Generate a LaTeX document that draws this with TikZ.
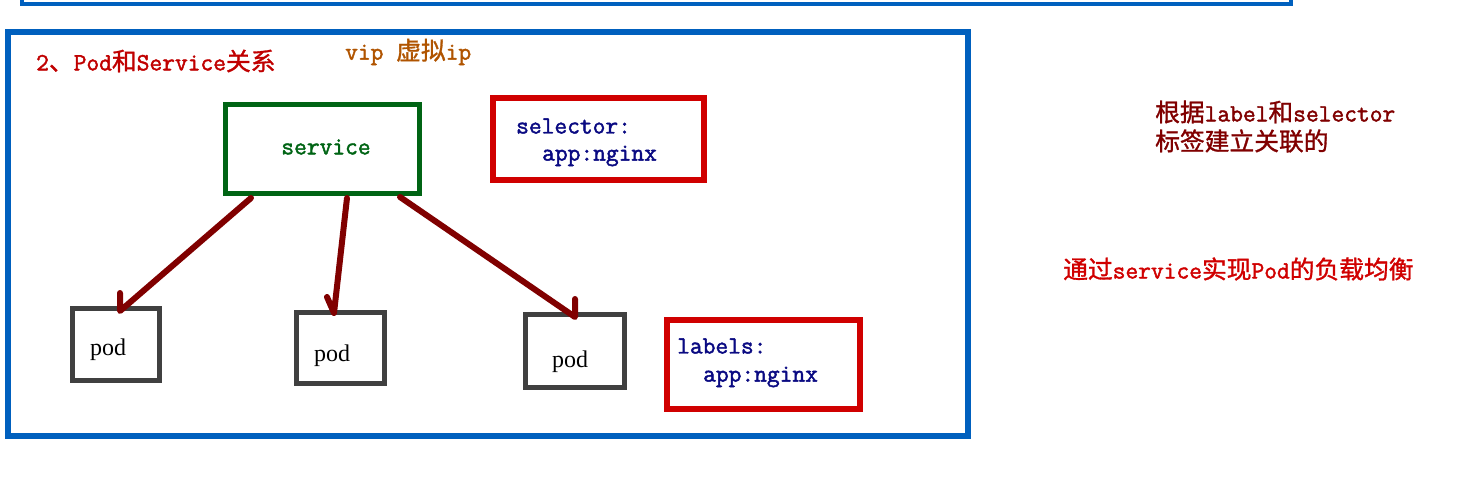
\documentclass[tikz,border=0pt]{standalone}
\usepackage{fontspec}
\newfontfamily\zhfont{Noto Sans CJK SC}[FakeBold=1.2]
\newfontfamily\codefont{Latin Modern Mono}[FakeBold=1.8]
\newfontfamily\podfont{Liberation Serif}
\definecolor{frameblue}{RGB}{0,96,190}
\definecolor{svcgreen}{RGB}{0,100,20}
\definecolor{boxred}{RGB}{208,0,0}
\definecolor{codeblue}{RGB}{10,10,130}
\definecolor{arrowred}{RGB}{128,0,0}
\definecolor{podgray}{RGB}{64,64,64}
\definecolor{titlered}{RGB}{192,0,0}
\definecolor{vipbrown}{RGB}{176,84,0}
\definecolor{notered}{RGB}{128,0,0}
\definecolor{notered2}{RGB}{208,0,0}
\begin{document}
\begin{tikzpicture}[x=1pt,y=-1pt,
  txt/.style={inner sep=0pt,font=\fontsize{24.76}{30}\selectfont\codefont},
  frame/.style={draw=frameblue,line width=6pt},
  svcbox/.style={draw=svcgreen,line width=5pt,inner sep=0pt},
  selbox/.style={draw=boxred,line width=6pt,inner sep=0pt},
  podbox/.style={draw=podgray,line width=5pt,inner sep=0pt},
  podtxt/.style={inner sep=0pt,font=\fontsize{24}{28}\selectfont\podfont,text=black},
  arr/.style={draw=arrowred,line width=6pt,line cap=round,line join=round}
]
\useasboundingbox (0,0) rectangle (1468,482);
\clip (0,0) rectangle (1468,482);
% top frame remnant
\draw[frame,line width=4.5pt] (22,-20) -- (22,4) -- (1291,4) -- (1291,-20);
% main frame
\draw[frame] (8,32) rectangle (968,436);

% title texts
\node[txt,anchor=west,text=titlered] (title) at (36,61) {2{\zhfont 、}Pod{\zhfont 和}Service{\zhfont 关系}};
\node[txt,anchor=west,text=vipbrown] (vip) at (345,52) {vip {\zhfont 虚拟}ip};

% service
\node[svcbox,minimum width=194pt,minimum height=89pt] (svc) at (322.5,149) {};
\node[txt,text=svcgreen] (svctxt) at (326,147) {service};

% selector
\node[selbox,minimum width=211pt,minimum height=82pt] (sel) at (598.5,139) {};
\node[txt,anchor=west,text=codeblue] (sel1) at (516,126) {selector:};
\node[txt,anchor=west,text=codeblue] (sel2) at (542,156) {app:nginx};

% labels
\node[selbox,minimum width=193pt,minimum height=89pt] (lab) at (763.5,364.5) {};
\node[txt,anchor=west,text=codeblue] (lab1) at (677,346) {labels:};
\node[txt,anchor=west,text=codeblue] (lab2) at (703,377) {app:nginx};

% pods
\node[podbox,minimum width=87pt,minimum height=72pt] (pod1) at (116,344.5) {};
\node[podtxt] (pod1t) at (108,350) {pod};
\node[podbox,minimum width=88pt,minimum height=71pt] (pod2) at (340.5,348) {};
\node[podtxt] (pod2t) at (332,356) {pod};
\node[podbox,minimum width=99pt,minimum height=73pt] (pod3) at (575,351) {};
\node[podtxt] (pod3t) at (570,362) {pod};

% arrows
\coordinate (a1s) at (251,198);
\coordinate (a1e) at (120,311);
\coordinate (a1b) at (120,293);
\coordinate (a2s) at (347,198);
\coordinate (a2e) at (334,313);
\coordinate (a2b) at (327,297);
\coordinate (a3s) at (400,197);
\coordinate (a3e) at (575,317);
\coordinate (a3b) at (575,299);
\draw[arr] (a1s) -- (a1e) -- (a1b);
\draw[arr] (a2s) -- (a2e) -- (a2b);
\draw[arr] (a3s) -- (a3e) -- (a3b);

% notes on the right
\node[txt,anchor=west,text=notered] (n1) at (1155,112) {{\zhfont 根据}label{\zhfont 和}selector};
\node[txt,anchor=west,text=notered] (n2) at (1155,141) {\zhfont 标签建立关联的};
\node[txt,anchor=west,text=notered2] (n3) at (1063,269) {{\zhfont 通过}service{\zhfont 实现}Pod{\zhfont 的负载均衡}};
\end{tikzpicture}
\end{document}
